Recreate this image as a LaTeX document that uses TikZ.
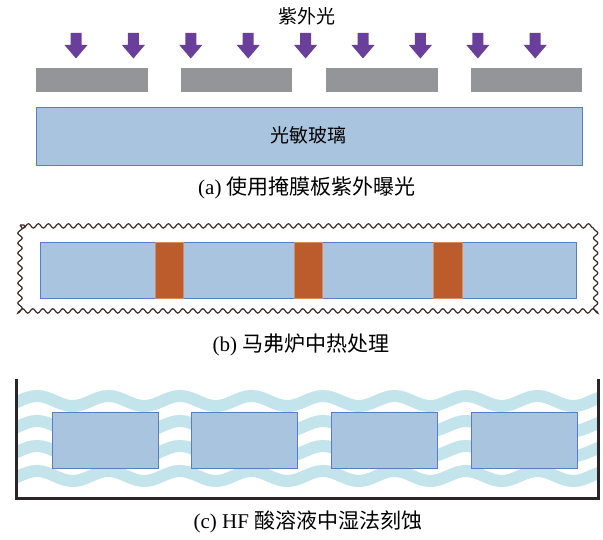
\documentclass[tikz,border=0pt]{standalone}
\usepackage{fontspec}
\setmainfont{Liberation Serif}
\newfontfamily\cjk{Noto Sans CJK SC}
\usetikzlibrary{decorations.pathmorphing}
\definecolor{glassfill}{HTML}{A9C4DE}
\definecolor{glassline}{HTML}{5A7CC6}
\definecolor{maskgray}{HTML}{939598}
\definecolor{uvpurple}{HTML}{6A3F9B}
\definecolor{heatorange}{HTML}{BC5B2C}
\definecolor{heatedge}{HTML}{D88A60}
\definecolor{wavecol}{HTML}{C2E4EA}
\definecolor{tankline}{HTML}{2A2526}
\definecolor{furnace}{HTML}{3A2A28}
\tikzset{
  glass/.style={fill=glassfill, draw=glassline, line width=0.9pt},
  maskbar/.style={fill=maskgray, draw=none},
  uvarrow/.style={fill=uvpurple, draw=none},
  heatbar/.style={fill=heatorange, draw=heatedge, line width=0.6pt},
  wavy/.style={draw=wavecol, line width=12pt},
  caption/.style={font=\fontsize{21}{25}\selectfont, inner sep=0pt},
  label/.style={font=\cjk\fontsize{19}{22}\selectfont, inner sep=0pt},
}
\begin{document}
\begin{tikzpicture}[x=1pt,y=-1pt]
\useasboundingbox (0,0) rectangle (603,540);
% ---------- (a) ----------
\node[label] (uv) at (307,16) {紫外光};
\foreach \i in {0,...,8}{
  \pgfmathsetmacro{\cx}{76+57.4*\i}
  \fill[uvarrow] (\cx-5.5,33) -- (\cx+5.5,33) -- (\cx+5.5,45) -- (\cx+11.5,45)
     -- (\cx,58.5) -- (\cx-11.5,45) -- (\cx-5.5,45) -- cycle;
}
\fill[maskbar] (36,68) rectangle (148,92);
\fill[maskbar] (181,68) rectangle (292,92);
\fill[maskbar] (326,68) rectangle (438,92);
\fill[maskbar] (471,68) rectangle (582,92);
\draw[glass] (36,107) rectangle (582,165);
\node[label] (glasslbl) at (308,135) {光敏玻璃};
\node[caption] (capa) at (307,188) {(a) {\cjk 使用掩膜板紫外曝光}};
% ---------- (b) ----------
\draw[furnace, line width=1.2pt, decorate,
      decoration={snake, segment length=10pt, amplitude=2.2pt}]
  (20,225) rectangle (597,313);
\draw[glass] (40,242) rectangle (576,298);
\draw[heatbar] (155,242) rectangle (183,298);
\draw[heatbar] (294,242) rectangle (322,298);
\draw[heatbar] (433,242) rectangle (462,298);
\node[caption] (capb) at (301,345) {(b) {\cjk 马弗炉中热处理}};
% ---------- (c) ----------
\begin{scope}
  \clip (17,370) rectangle (597,497);
  \foreach \yc in {401,426,451,476}{
    \draw[wavy] (-34.5,\yc-5)
      \foreach \k in {0,...,9}{ cos ++(17.875,5) sin ++(17.875,5) cos ++(17.875,-5) sin ++(17.875,-5) };
  }
\end{scope}
\draw[glass] (52,412) rectangle (158,468);
\draw[glass] (191,412) rectangle (297,468);
\draw[glass] (331,412) rectangle (437,468);
\draw[glass] (471,412) rectangle (577,468);
\draw[tankline, line width=3pt, line join=miter] (16,379) -- (16,498) -- (598,498) -- (598,379);
\node[caption] (capc) at (308,522) {(c) HF {\cjk 酸溶液中湿法刻蚀}};
\end{tikzpicture}
\end{document}
